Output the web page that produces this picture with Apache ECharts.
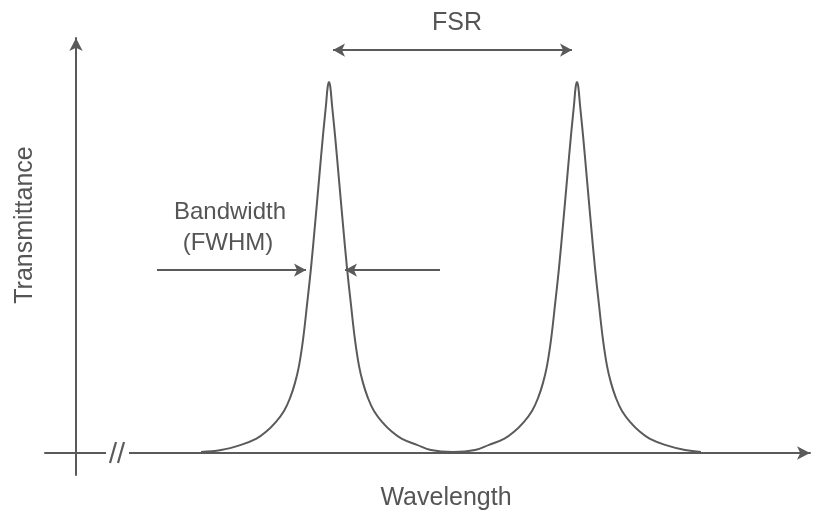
<!DOCTYPE html>
<html>
<head>
<meta charset="utf-8">
<script src="https://cdn.jsdelivr.net/npm/echarts@6/dist/echarts.min.js"></script>
<style>
  html, body { margin: 0; padding: 0; background: #fff; }
  #chart { width: 818px; height: 517px; }
</style>
</head>
<body>
<div id="chart"></div>
<script>
// wavelength (arbitrary units, y axis at 0) and transmittance (peak = 1)
const wavelength = [
  125, 145, 165, 180, 190, 200, 208, 214, 219, 223, 227, 231, 235, 239, 243, 247, 250, 251.6, 253,
  254.4, 256, 259, 263, 267, 271, 275, 279, 283, 287, 292, 298,
  306, 316, 326, 341, 355, 377, 399, 413, 428, 438, 448,
  456, 462, 467, 471, 475, 479, 483, 487, 491, 495, 498, 499.6, 501,
  502.4, 504, 507, 511, 515, 519, 523, 527, 531, 535, 540, 546, 554, 564, 574, 589, 609, 625
]
const transmittance = [
  0.003, 0.008, 0.022, 0.038, 0.057, 0.084, 0.113, 0.148, 0.189, 0.235, 0.305, 0.399, 0.499, 0.615, 0.736, 0.857, 0.938, 0.985, 1,
  0.985, 0.938, 0.857, 0.736, 0.615, 0.499, 0.399, 0.305, 0.235, 0.189, 0.148, 0.113,
  0.084, 0.057, 0.038, 0.022, 0.008, 0.003, 0.008, 0.022, 0.038, 0.057, 0.084,
  0.113, 0.148, 0.189, 0.235, 0.305, 0.399, 0.499, 0.615, 0.736, 0.857, 0.938, 0.985, 1,
  0.985, 0.938, 0.857, 0.736, 0.615, 0.499, 0.399, 0.305, 0.235, 0.189, 0.148, 0.113, 0.084, 0.057, 0.038, 0.022, 0.008, 0.003
]

// annotation arrows: [x1, x2, y]
const fsrArrow = [257, 496, 1.086]
const fwhmLeft = [81, 230, 0.493]
const fwhmRight = [364, 269, 0.493]

const ink = '#5a5a5a'
const textInk = '#555'

const chart = echarts.init(document.getElementById('chart'))

const arrowLine = (a, bothEnds) => [
  { coord: [a[0], a[2]], symbol: bothEnds ? 'arrow' : 'none' },
  { coord: [a[1], a[2]], symbol: 'arrow' }
]

const txt = (text, x, y, size, rotation) => ({
  type: 'text',
  x: x,
  y: y,
  rotation: rotation || 0,
  style: {
    text: text,
    fill: textInk,
    font: size + 'px "Liberation Sans", Arial, sans-serif',
    align: 'center',
    verticalAlign: 'middle'
  }
})

const option = {
  animation: false,
  grid: { left: 45, right: 8, top: 38, bottom: 42 },
  xAxis: {
    type: 'value',
    min: -31,
    max: 734,
    axisLine: {
      onZero: true,
      symbol: ['none', 'arrow'],
      symbolSize: [10, 13],
      lineStyle: { color: ink, width: 2 }
    },
    axisTick: { show: false },
    axisLabel: { show: false },
    splitLine: { show: false }
  },
  yAxis: {
    type: 'value',
    min: -0.0593,
    max: 1.1186,
    axisLine: {
      onZero: true,
      symbol: ['none', 'arrow'],
      symbolSize: [10, 13],
      lineStyle: { color: ink, width: 2 }
    },
    axisTick: { show: false },
    axisLabel: { show: false },
    splitLine: { show: false }
  },
  series: [
    {
      type: 'line',
      data: wavelength.map((w, i) => [w, transmittance[i]]),
      smooth: 0.4,
      showSymbol: false,
      silent: true,
      lineStyle: { color: ink, width: 2 },
      markLine: {
        silent: true,
        symbolSize: [10, 12],
        label: { show: false },
        lineStyle: { color: ink, width: 2, type: 'solid' },
        emphasis: { disabled: true },
        data: [
          arrowLine(fsrArrow, true),
          arrowLine(fwhmLeft, false),
          arrowLine(fwhmRight, false)
        ]
      }
    }
  ],
  graphic: [
    // axis break "//"
    { type: 'rect', shape: { x: 106, y: 448, width: 23, height: 10 }, style: { fill: '#fff' }, z: 100 },
    { type: 'line', shape: { x1: 110, y1: 463, x2: 116, y2: 442 }, style: { stroke: ink, lineWidth: 2.2 }, z: 101 },
    { type: 'line', shape: { x1: 118, y1: 463, x2: 124, y2: 442 }, style: { stroke: ink, lineWidth: 2.2 }, z: 101 },
    txt('FSR', 457, 23, 25),
    txt('Bandwidth', 230, 212, 24),
    txt('(FWHM)', 228, 243, 24),
    txt('Wavelength', 446, 498, 25),
    txt('Transmittance', 25, 225, 25, Math.PI / 2)
  ]
}

chart.setOption(option)
</script>
</body>
</html>
